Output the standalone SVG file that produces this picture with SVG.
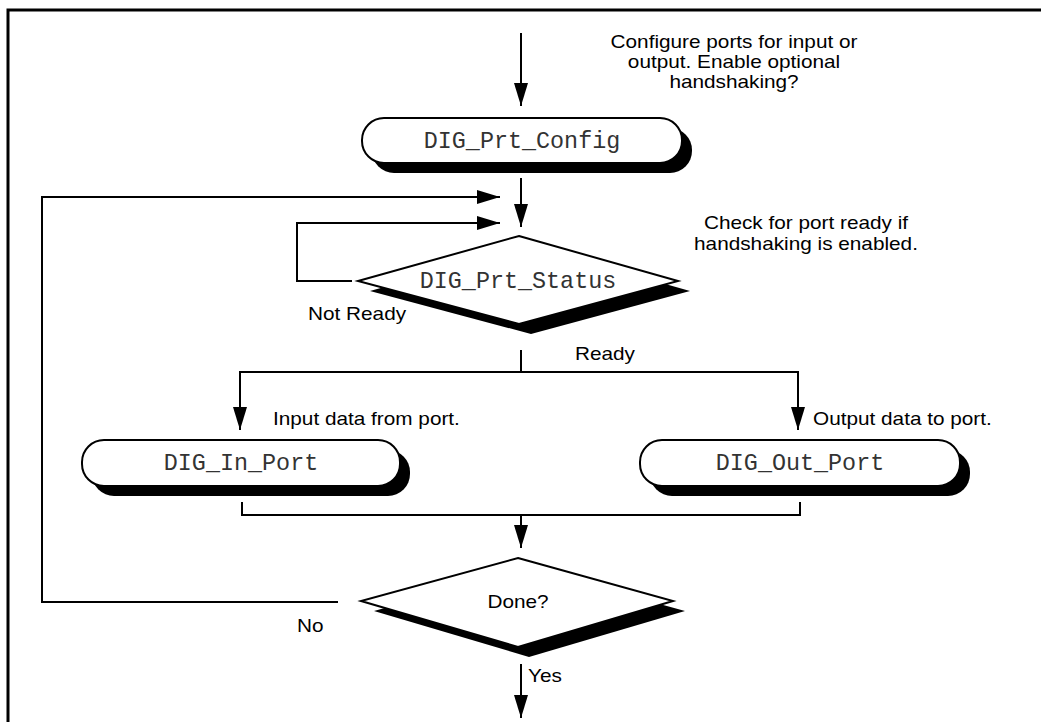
<svg xmlns="http://www.w3.org/2000/svg" width="1041" height="722" viewBox="0 0 1041 722">
  <defs>
    <marker id="arrow" markerWidth="23" markerHeight="14" refX="23" refY="7" viewBox="0 0 23 14" orient="auto" markerUnits="userSpaceOnUse">
      <path d="M0,0 L23,7 L0,14 Z" fill="#000"/>
    </marker>
  </defs>
  <style>
    .line { fill: none; stroke: #000; stroke-width: 2; }
    .shape { fill: #fff; stroke: #000; stroke-width: 2; }
    .shadow { fill: #000; }
    .code { font-family: "Liberation Mono", "Courier New", monospace; font-size: 23.4px; fill: #333; }
    /* annotation type is set wide: 17.6px glyphs stretched 118% horizontally */
    .note { font-family: "Liberation Sans", Arial, sans-serif; font-size: 17.6px; fill: #000; }
    .mid { text-anchor: middle; }
  </style>
  <rect width="1041" height="722" fill="#fff"/>
  <!-- page frame -->
  <path d="M8,722 L8,10 L1041,10" fill="none" stroke="#000" stroke-width="3"/>

  <g id="connectors">
    <line class="line" x1="521" y1="33" x2="521" y2="106" marker-end="url(#arrow)"/>
    <line class="line" x1="521" y1="178" x2="521" y2="227" marker-end="url(#arrow)"/>
    <polyline class="line" points="338,602 42,602 42,197 500,197" marker-end="url(#arrow)"/>
    <polyline class="line" points="352,281 297,281 297,223 500,223" marker-end="url(#arrow)"/>
    <line class="line" x1="521" y1="350" x2="521" y2="372"/>
    <polyline class="line" points="240,410 240,372 798,372 798,410"/>
    <line class="line" x1="240" y1="400" x2="240" y2="430" marker-end="url(#arrow)"/>
    <line class="line" x1="798" y1="400" x2="798" y2="430" marker-end="url(#arrow)"/>
    <polyline class="line" points="242,502 242,515 800,515 800,502"/>
    <line class="line" x1="521" y1="515" x2="521" y2="548" marker-end="url(#arrow)"/>
    <line class="line" x1="521" y1="664" x2="521" y2="718" marker-end="url(#arrow)"/>
  </g>

  <g id="config">
    <rect class="shadow" x="372" y="128" width="320" height="45" rx="22"/>
    <rect class="shape" x="362" y="118" width="320" height="45" rx="22"/>
    <text class="code" x="522" y="148" text-anchor="middle">DIG_Prt_Config</text>
  </g>
  <text class="note mid" transform="translate(734,48) scale(1.18,1)">Configure ports for input or</text>
  <text class="note mid" transform="translate(734,68) scale(1.18,1)">output. Enable optional</text>
  <text class="note mid" transform="translate(734,88) scale(1.18,1)">handshaking?</text>

  <g id="status">
    <polygon class="shadow" points="531,246 690,291 531,334 370,291"/>
    <polygon class="shape" points="519,236 678,281 519,324 358,281"/>
    <text class="code" x="518" y="288" text-anchor="middle">DIG_Prt_Status</text>
  </g>
  <text class="note mid" transform="translate(806,229) scale(1.18,1)">Check for port ready if</text>
  <text class="note mid" transform="translate(806,250) scale(1.18,1)">handshaking is enabled.</text>
  <text class="note" transform="translate(308,320) scale(1.18,1)">Not Ready</text>
  <text class="note" transform="translate(575,360) scale(1.18,1)">Ready</text>

  <g id="in_port">
    <rect class="shadow" x="92" y="450" width="318" height="46" rx="22"/>
    <rect class="shape" x="82" y="440" width="318" height="46" rx="22"/>
    <text class="code" x="241" y="470" text-anchor="middle">DIG_In_Port</text>
  </g>
  <text class="note" transform="translate(273,425) scale(1.18,1)">Input data from port.</text>

  <g id="out_port">
    <rect class="shadow" x="650" y="450" width="320" height="46" rx="22"/>
    <rect class="shape" x="640" y="440" width="320" height="46" rx="22"/>
    <text class="code" x="800" y="470" text-anchor="middle">DIG_Out_Port</text>
  </g>
  <text class="note" transform="translate(813,425) scale(1.18,1)">Output data to port.</text>

  <g id="done">
    <polygon class="shadow" points="529,568 685,611 529,657 374,611"/>
    <polygon class="shape" points="518,558 673,601 518,647 361,601"/>
    <text class="note mid" transform="translate(518,608) scale(1.18,1)">Done?</text>
  </g>
  <text class="note" transform="translate(297,632) scale(1.18,1)">No</text>
  <text class="note" transform="translate(528,682) scale(1.18,1)">Yes</text>
</svg>
